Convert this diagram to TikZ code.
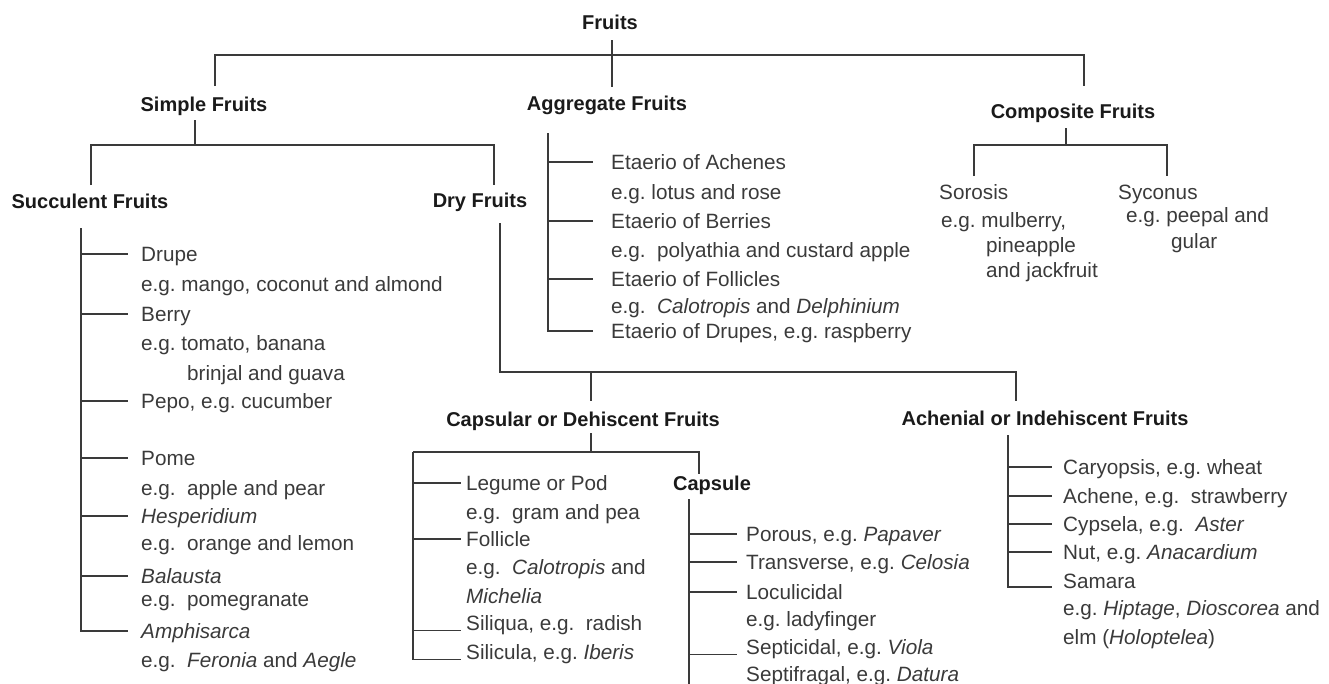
\documentclass[tikz,border=0pt]{standalone}
\usepackage{fontspec}
\setmainfont{Liberation Sans}
\frenchspacing
\definecolor{linec}{HTML}{3A3A3A}
\definecolor{itemc}{HTML}{3A3A3A}
\definecolor{headc}{HTML}{1A1A1A}
\newcommand{\hdfont}{\fontsize{20}{24}\selectfont\bfseries}
\newcommand{\lbfont}{\fontsize{20.7}{24}\selectfont}
\begin{document}
\begin{tikzpicture}[x=1pt,y=-1pt,
  head/.style={font=\hdfont, text=headc, inner sep=0pt, text height=14.5pt, text depth=0pt, anchor=center},
  lbl/.style={font=\lbfont, text=itemc, inner sep=0pt, text height=14pt, text depth=0pt, anchor=west},
  ln/.style={draw=linec, line width=1.3pt}]
\useasboundingbox (0,0) rectangle (1329,683);
\clip (0,0) rectangle (1329,683);

% headings
\node[head] (fruits) at (610,22) {Fruits};
\node[head] (simple) at (204,104) {Simple Fruits};
\node[head] (agg) at (607,103) {Aggregate Fruits};
\node[head] (comp) at (1073,111) {Composite Fruits};
\node[head] (succ) at (90,201) {Succulent Fruits};
\node[head] (dry) at (480,200) {Dry Fruits};
\node[head] (caps) at (583,419) {Capsular or Dehiscent Fruits};
\node[head] (ach) at (1045,418) {Achenial or Indehiscent Fruits};
\node[head] (capsule) at (712,483) {Capsule};

% top level
\coordinate (fA) at (612,40); \coordinate (fB) at (612,87);
\coordinate (barL) at (215,55); \coordinate (barR) at (1084,55);
\coordinate (sT) at (215,86); \coordinate (cT) at (1084,86);
\draw[ln] (fA) -- (fB);
\draw[ln] (sT) -- (barL) -- (barR) -- (cT);

% simple fruits
\coordinate (spA) at (195,120); \coordinate (spB) at (195,145);
\coordinate (spL) at (91,145); \coordinate (spR) at (494,145);
\coordinate (suT) at (91,185); \coordinate (drT) at (494,185);
\draw[ln] (spA) -- (spB);
\draw[ln] (suT) -- (spL) -- (spR) -- (drT);

% composite fruits
\coordinate (cpA) at (1066,128); \coordinate (cpB) at (1066,145);
\coordinate (cpL) at (974,145); \coordinate (cpR) at (1167,145);
\coordinate (soT) at (974,176); \coordinate (syT) at (1167,176);
\draw[ln] (cpA) -- (cpB);
\draw[ln] (soT) -- (cpL) -- (cpR) -- (syT);
\node[lbl] (soro) at (939,192) {Sorosis};
\node[lbl] (sorob) at (941,220) {e.g. mulberry,};
\node[lbl] (soroc) at (986,245) {pineapple};
\node[lbl] (sorod) at (986,270) {and jackfruit};
\node[lbl] (syco) at (1118,192) {Syconus};
\node[lbl] (sycob) at (1126,215) {e.g. peepal and};
\node[lbl] (sycoc) at (1171,241) {gular};

% succulent list
\coordinate (sucT) at (81,228); \coordinate (sucE) at (128,228);
\node[lbl] (s1) at (141,254) {Drupe};
\node[lbl] (s1b) at (141,284) {e.g. mango, coconut and almond};
\node[lbl] (s2) at (141,314) {Berry};
\node[lbl] (s2b) at (141,343) {e.g. tomato, banana};
\node[lbl] (s2c) at (187,373) {brinjal and guava};
\node[lbl] (s3) at (141,401) {Pepo, e.g. cucumber};
\node[lbl] (s4) at (141,458) {Pome};
\node[lbl] (s4b) at (141,488) {e.g.\ \ apple and pear};
\node[lbl] (s5) at (141,516) {\itshape Hesperidium};
\node[lbl] (s5b) at (141,543) {e.g.\ \ orange and lemon};
\node[lbl] (s6) at (141,576) {\itshape Balausta};
\node[lbl] (s6b) at (141,599) {e.g.\ \ pomegranate};
\node[lbl] (s7) at (141,631) {\itshape Amphisarca};
\node[lbl] (s7b) at (141,660) {e.g.\ \ \textit{Feronia} and \textit{Aegle}};
\draw[ln] (sucT) |- (sucE |- s7.west);
\foreach \n in {s1,s2,s3,s4,s5,s6} \draw[ln] (sucT |- \n.west) -- (sucE |- \n.west);

% aggregate list
\coordinate (agT) at (548,133); \coordinate (agE) at (593,133);
\node[lbl] (a1) at (611,162) {Etaerio of Achenes};
\node[lbl] (a1b) at (611,192) {e.g. lotus and rose};
\node[lbl] (a2) at (611,221) {Etaerio of Berries};
\node[lbl] (a2b) at (611,250) {e.g.\ \ polyathia and custard apple};
\node[lbl] (a3) at (611,279) {Etaerio of Follicles};
\node[lbl] (a3b) at (611,306) {e.g.\ \ \textit{Calotropis} and \textit{Delphinium}};
\node[lbl] (a4) at (611,331) {Etaerio of Drupes, e.g. raspberry};
\draw[ln] (agT) |- (agE |- a4.west);
\foreach \n in {a1,a2,a3} \draw[ln] (agT |- \n.west) -- (agE |- \n.west);

% dry fruits
\coordinate (dyA) at (500,223); \coordinate (dyB) at (500,372);
\coordinate (dyR) at (1016,372); \coordinate (dyM) at (591,372);
\coordinate (caT) at (591,401); \coordinate (acT) at (1016,401);
\draw[ln] (dyA) -- (dyB) -- (dyR) -- (acT);
\draw[ln] (dyM) -- (caT);

% capsular
\coordinate (cdA) at (591,433); \coordinate (cdB) at (591,452);
\coordinate (cdL) at (413,452); \coordinate (cdR) at (699,452);
\coordinate (kpT) at (699,474);
\coordinate (cdE) at (461,452);
\draw[ln] (cdA) -- (cdB);
\draw[ln] (cdL) -- (cdR) -- (kpT);
\node[lbl] (c1) at (466,483) {Legume or Pod};
\node[lbl] (c1b) at (466,512) {e.g.\ \ gram and pea};
\node[lbl] (c2) at (466,539) {Follicle};
\node[lbl] (c2b) at (466,567) {e.g.\ \ \textit{Calotropis} and};
\node[lbl] (c2c) at (466,596) {\itshape Michelia};
\node[lbl] (c3) at (466,623) {Siliqua, e.g.\ \ radish};
\node[lbl] (c4) at (466,652) {Silicula, e.g. \textit{Iberis}};
\draw[ln] (cdL) |- (cdE |- c4.south west);
\draw[ln] (cdL |- c1.west) -- (cdE |- c1.west);
\draw[ln] (cdL |- c2.west) -- (cdE |- c2.west);
\draw[ln] (cdL |- c3.south west) -- (cdE |- c3.south west);

% capsule list
\coordinate (kT) at (689,499); \coordinate (kB) at (689,690); \coordinate (kE) at (737,499);
\node[lbl] (k1) at (746,534) {Porous, e.g. \textit{Papaver}};
\node[lbl] (k2) at (746,562) {Transverse, e.g. \textit{Celosia}};
\node[lbl] (k3) at (746,592) {Loculicidal};
\node[lbl] (k3b) at (746,619) {e.g. ladyfinger};
\node[lbl] (k4) at (746,647) {Septicidal, e.g. \textit{Viola}};
\node[lbl] (k5) at (746,674) {Septifragal, e.g. \textit{Datura}};
\draw[ln] (kT) -- (kB);
\foreach \n in {k1,k2,k3} \draw[ln] (kT |- \n.west) -- (kE |- \n.west);
\draw[ln] (kT |- k4.south west) -- (kE |- k4.south west);

% achenial list
\coordinate (hT) at (1008,435); \coordinate (hE) at (1052,435);
\node[lbl] (h1) at (1063,467) {Caryopsis, e.g. wheat};
\node[lbl] (h2) at (1063,496) {Achene, e.g.\ \ strawberry};
\node[lbl] (h3) at (1063,524) {Cypsela, e.g.\ \ \textit{Aster}};
\node[lbl] (h4) at (1063,552) {Nut, e.g. \textit{Anacardium}};
\node[lbl] (h5) at (1063,581) {Samara};
\node[lbl] (h5b) at (1063,608) {e.g. \textit{Hiptage}, \textit{Dioscorea} and};
\node[lbl] (h5c) at (1063,637) {elm (\textit{Holoptelea})};
\coordinate (h5j) at (1008,587);
\draw[ln] (hT) -- (h5j) -- (hE |- h5j);
\foreach \n in {h1,h2,h3,h4} \draw[ln] (hT |- \n.west) -- (hE |- \n.west);
\end{tikzpicture}
\end{document}
